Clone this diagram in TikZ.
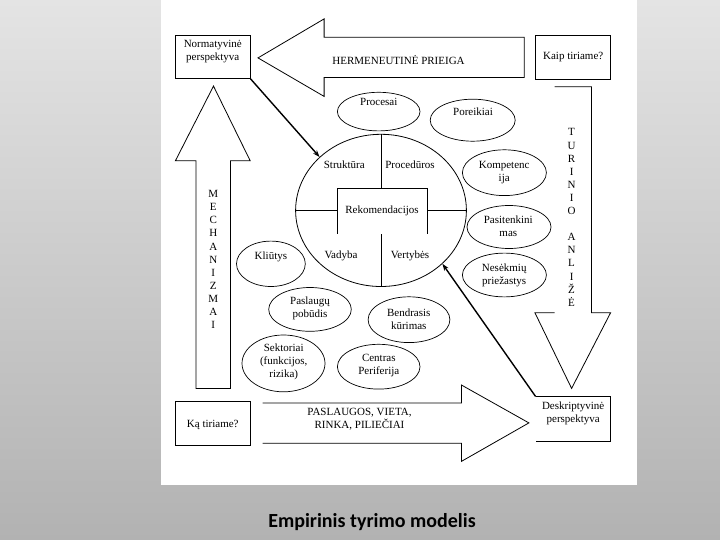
\documentclass[tikz,border=0pt]{standalone}
\usepackage{fontspec}
\setmainfont{Liberation Serif}
\newfontfamily\capfont{Carlito}
\usetikzlibrary{shapes.geometric,arrows.meta}
\definecolor{bgtop}{HTML}{E4E4E4}
\definecolor{bgbot}{HTML}{B2B2B2}
\begin{document}
\begin{tikzpicture}[x=1pt,y=-1pt,
  shp/.style={draw=black,line width=0.8pt,line join=miter},
  oval/.style={ellipse,draw=black,line width=0.7pt,inner sep=0pt},
  txt/.style={font=\fontsize{11}{13}\selectfont,align=center,inner sep=0pt},
  vtxt/.style={font=\fontsize{11}{13.1}\selectfont,align=center,inner sep=0pt},
  conn/.style={line width=1.4pt,-{Stealth[length=7pt,width=5pt]}},
  boxn/.style={draw=black,line width=0.8pt,inner sep=0pt,minimum width=74.8pt},
  ghost/.style={inner sep=0pt,minimum width=74.8pt}
]
\useasboundingbox (0,0) rectangle (720,540);
\shade[top color=bgtop,bottom color=bgbot] (0,0) rectangle (720,540);
\fill[white] (160.7,0) rectangle (637.3,484.5);

% boxes
\node[boxn,minimum height=43pt] (norm) at (212.8,57) {};
\node[txt] (normt) at (212.8,51.4) {Normatyvinė\\perspektyva};
\node[boxn,minimum height=43.7pt] (kaip) at (573.2,57.35) {};
\node[txt] (kaipt) at (573.2,57.3) {Kaip tiriame?};
\node[boxn,minimum height=44pt] (ka) at (212.8,423.2) {};
\node[txt] (kat) at (212.8,424.5) {Ką tiriame?};
\node[ghost,minimum height=44.8pt] (desk) at (573.2,419.1) {};
\draw[shp] (desk.north west) -- (desk.north east) -- (desk.south east) -- (desk.south west);
\node[txt] (deskt) at (573.2,413.7) {Deskriptyvinė\\perspektyva};

% big arrows
\draw[shp] (524.3,37.2) -- (324.1,37.2) -- (324.1,18.9) -- (258,57.9) -- (324.1,96.4) -- (324.1,77.5) -- (524.3,77.5) -- cycle;
\node[txt] (herm) at (398.5,60) {HERMENEUTINĖ PRIEIGA};

\draw[shp] (196,388.4) -- (196,160.8) -- (175.4,160.8) -- (213.5,86.1) -- (250.2,160.8) -- (230.5,160.8) -- (230.5,388.4) -- cycle;
\node[vtxt] (mech) at (213.3,259.5) {M\\E\\C\\H\\A\\N\\I\\Z\\M\\A\\I};

\draw[shp] (554.6,86.8) -- (591.4,86.8) -- (591.4,312.7) -- (610.6,312.7) -- (571.6,388.4) -- (534.9,312.7) -- (554.6,312.7);
\node[vtxt] (turin) at (571.6,217.5) {T\\U\\R\\I\\N\\I\\O\\\mbox{}\\A\\N\\L\\I\\Ž\\Ė};

\draw[shp] (262.6,402.9) -- (461.4,402.9) -- (461.4,385) -- (528.9,422.9) -- (461.4,461.4) -- (461.4,443.2) -- (262.6,443.2);
\node[txt] (pasl) at (359.5,419.3) {PASLAUGOS, VIETA,\\RINKA, PILIEČIAI};

% central circle
\node[ellipse,draw=black,line width=0.8pt,inner sep=0pt,minimum width=170.8pt,minimum height=152.2pt] (circ) at (381,210.4) {};
\coordinate (rbl) at (337.5,233.5);
\coordinate (rtl) at (337.5,188.4);
\coordinate (rtr) at (427,188.4);
\coordinate (rbr) at (427,233.5);
\coordinate (rtc) at (381,188.4);
\coordinate (rbc) at (381,234);
\coordinate (rml) at (337.5,210.4);
\coordinate (rmr) at (427,210.4);
\draw[shp] (rbl) -- (rtl) -- (rtr) -- (rbr);
\draw[shp] (circ.north) -- (rtc);
\draw[shp] (rbc) -- (circ.south);
\draw[shp] (circ.west) -- (rml);
\draw[shp] (rmr) -- (circ.east);
\node[txt] (rek) at (382,211) {Rekomendacijos};
\node[txt] (strk) at (344.3,164.6) {Struktūra};
\node[txt] (proc) at (410,164.6) {Procedūros};
\node[txt] (vad) at (341,255.5) {Vadyba};
\node[txt] (vert) at (410,255.5) {Vertybės};

% small ellipses
\node[oval,minimum width=82.6pt,minimum height=38.6pt] (e1) at (378.7,111.6) {};
\node[txt] (e1t) at (378.8,102) {Procesai};
\node[oval,minimum width=85pt,minimum height=42pt] (e2) at (472.7,120.2) {};
\node[txt] (e2t) at (473,112) {Poreikiai};
\node[oval,minimum width=84pt,minimum height=45.8pt] (e3) at (504.4,172.7) {};
\node[txt] (e3t) at (504.2,172.5) {Kompetenc\\ija};
\node[oval,minimum width=84pt,minimum height=43pt] (e4) at (509,227) {};
\node[txt] (e4t) at (508.3,225.9) {Pasitenkini\\mas};
\node[oval,minimum width=84pt,minimum height=43.8pt] (e5) at (504.4,275) {};
\node[txt] (e5t) at (504.2,274.9) {Nesėkmių\\priežastys};
\node[oval,minimum width=68.8pt,minimum height=45.4pt] (e6) at (270.9,263.8) {};
\node[txt] (e6t) at (270.9,256.5) {Kliūtys};
\node[oval,minimum width=82.6pt,minimum height=43.8pt] (e7) at (310,309.4) {};
\node[txt] (e7t) at (310,308.2) {Paslaugų\\pobūdis};
\node[oval,minimum width=81.8pt,minimum height=45.8pt] (e8) at (409,319.7) {};
\node[txt] (e8t) at (408.8,319.7) {Bendrasis\\kūrimas};
\node[oval,minimum width=83pt,minimum height=56.8pt] (e9) at (283.5,363.4) {};
\node[txt] (e9t) at (283.7,361.8) {Sektoriai\\(funkcijos,\\rizika)};
\node[oval,minimum width=82.6pt,minimum height=44.8pt] (e10) at (378.7,366.7) {};
\node[txt] (e10t) at (378.8,365.5) {Centras\\Periferija};

% connectors
\draw[conn] (norm.south east) -- (circ.139);
\draw[conn] (desk.north west) -- (circ.-41);

% caption
\node[font=\capfont\bfseries\fontsize{20}{24}\selectfont,inner sep=0pt] (cap) at (372,521.7) {Empirinis tyrimo modelis};
\end{tikzpicture}
\end{document}
